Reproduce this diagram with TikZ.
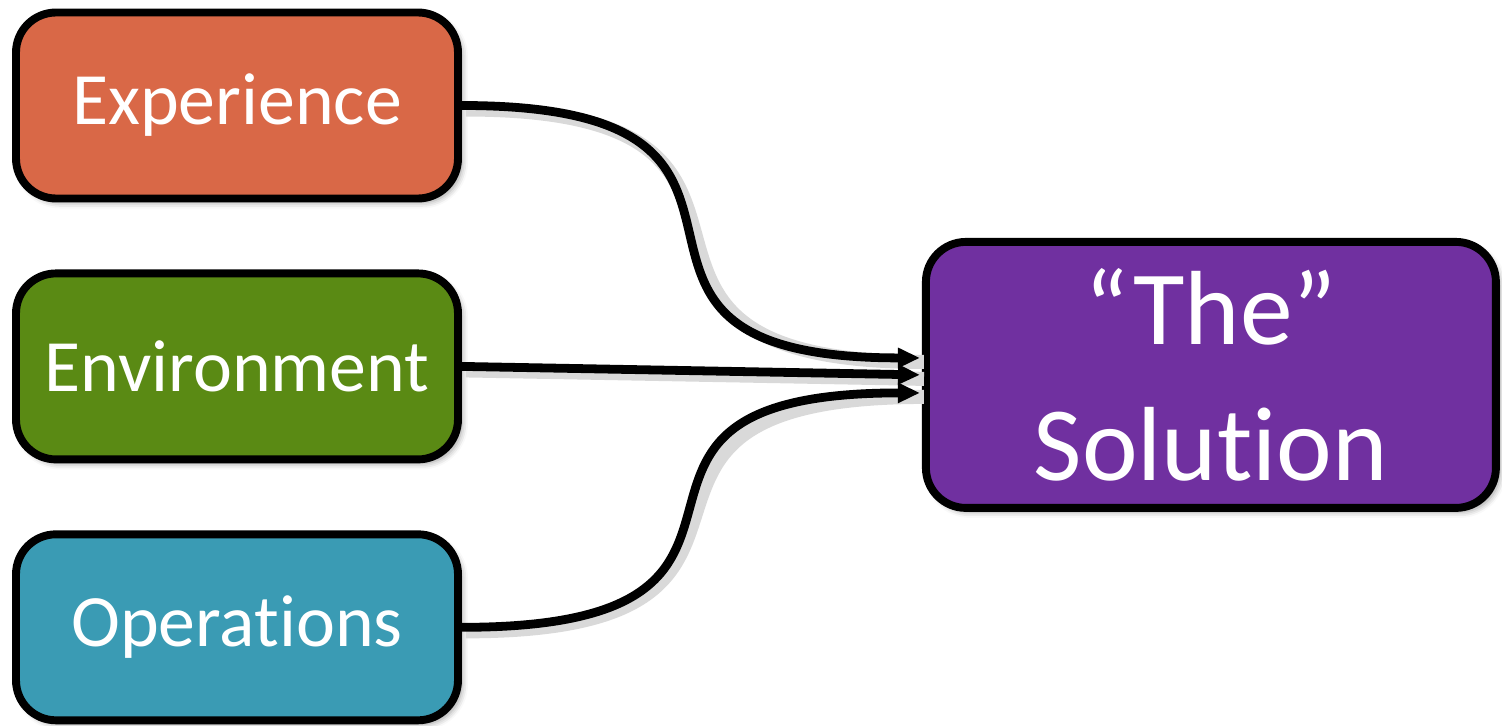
\documentclass[tikz,border=0pt]{standalone}
\usepackage{fontspec}
\setmainfont{Carlito}[RawFeature={-liga;-clig;-dlig;-calt}]
\usepackage{tikz}
\usetikzlibrary{%
  shapes, arrows, calc, positioning, arrows.meta, shadows, shadows.blur
}
\usepackage{xcolor}
\definecolor{expcol}{HTML}{D96847}
\definecolor{envcol}{HTML}{5A8A14}
\definecolor{opscol}{HTML}{3A9BB4}
\definecolor{solcol}{HTML}{7030A0}
\tikzstyle{factor} = [%
  rectangle,
  rounded corners=0.8cm,
  draw=black,
  line width=4.5pt,
  minimum width=8.84cm,
  minimum height=3.72cm,
  align=center,
  text=white,
  text centered,
  inner sep=2pt,
  font=\fontsize{42}{50}\selectfont,
  blur shadow={shadow xshift=0.08cm,shadow yshift=-0.08cm,shadow blur radius=0.12cm}
]
\tikzstyle{link} = [%
  line width=5pt,
  -{Triangle[length=0.44cm,width=0.38cm]},
  shorten >=0.04cm,
  preaction={draw=black!15,line width=8pt,-,transform canvas={xshift=0.08cm,yshift=-0.08cm}}
]

\begin{document}
\begin{tikzpicture}

  \useasboundingbox (-4.74,2.11) rectangle (25.3,-12.41);

  % Nodes
  \node[factor,fill=expcol] (exp) at (0,0) {Experience};
  \node[factor,fill=envcol,below=1.34cm of exp] (env) {Environment};
  \node[factor,fill=opscol,below=1.34cm of env] (ops) {Operations};
  \node[factor,fill=solcol,minimum width=11.4cm,minimum height=5.32cm,
        font=\fontsize{60}{77}\selectfont,right=9.2cm of env,yshift=-0.17cm] (sol) {“The”\\Solution};

  % Edges
  \draw[link] (exp.east) to[out=0,in=180,looseness=1.9] ([yshift=0.34cm]sol.west);
  \draw[link] (env.east) to (sol.west);
  \draw[link] (ops.east) to[out=0,in=180,looseness=1.9] ([yshift=-0.36cm]sol.west);

\end{tikzpicture}
\end{document}
